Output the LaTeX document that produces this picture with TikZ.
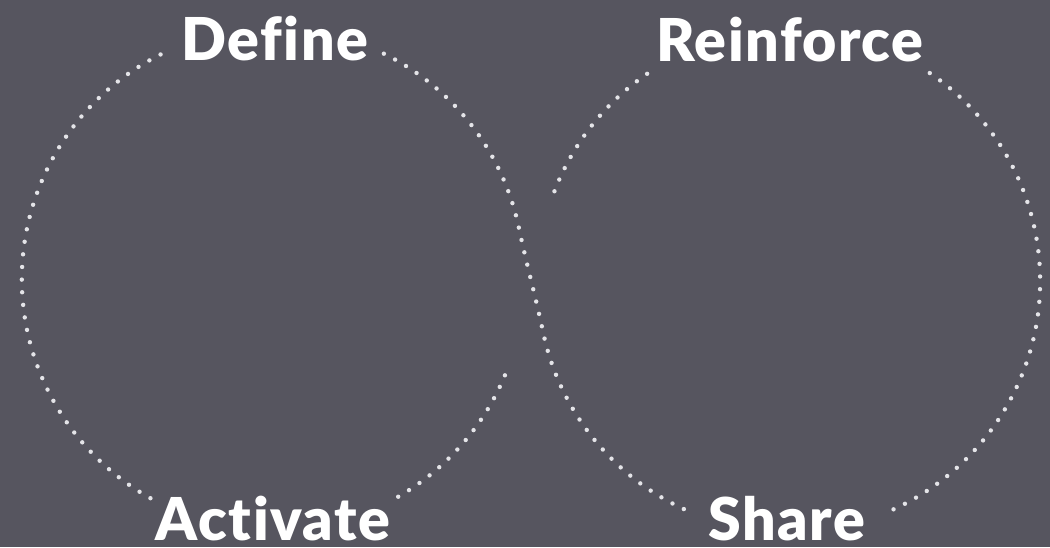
\documentclass[tikz,border=0pt]{standalone}
\usepackage{fontspec}
\setmainfont{Lato}
\newfontfamily\lblfont{Lato Black}[LetterSpace=2.5, Ligatures={NoCommon}]
\usetikzlibrary{calc}
\definecolor{bgcol}{HTML}{56555F}
\definecolor{dotcol}{HTML}{E4E4E8}
\tikzset{
  dotline/.style={draw=dotcol, line width=1.25pt, line cap=round, dash pattern=on 0pt off 3.6pt},
  lbl/.style={text=white, font=\lblfont\fontsize{16.8}{20}\selectfont, inner sep=0pt, anchor=base}
}
\begin{document}
\begin{tikzpicture}[x=0.01cm, y=0.01cm]
\useasboundingbox (0,0) rectangle (1050,547);
\fill[bgcol] (0,0) rectangle (1050,547);
\coordinate (c1) at (273,268);
\coordinate (c2) at (789,266);
\coordinate (s2) at ($(c2)+(192:2.51cm)$);
% labels
\node[lbl] (define) at (275,487) {Define};
\node[lbl] (reinforce) at (790,486) {Reinforce};
\node[lbl] (activate) at (273,7) {Activate};
\node[lbl] (share) at (787,7) {Share};
% left outer arc: Define -> Activate
\draw[dotline] ([shift={(116.6:2.51cm)}]c1) arc[start angle=116.6, end angle=241.1, radius=2.51cm];
% Activate -> broken inner end
\draw[dotline] ([shift={(-60.1:2.51cm)}]c1) arc[start angle=-60.1, end angle=-21.3, radius=2.51cm];
% Define -> crossing -> Share
\draw[dotline] ([shift={(63.8:2.51cm)}]c1) arc[start angle=63.8, end angle=12, radius=2.51cm]
  .. controls +(8.3,-39.1) and ([shift={(-8.3,39.1)}]s2) .. (s2)
  arc[start angle=192, end angle=247.7, radius=2.51cm];
% Reinforce -> broken inner end
\draw[dotline] ([shift={(124.4:2.51cm)}]c2) arc[start angle=124.4, end angle=159.5, radius=2.51cm];
% right outer arc: Reinforce -> Share
\draw[dotline] ([shift={(55.9:2.51cm)}]c2) arc[start angle=55.9, end angle=-67.9, radius=2.51cm];
\end{tikzpicture}
\end{document}
